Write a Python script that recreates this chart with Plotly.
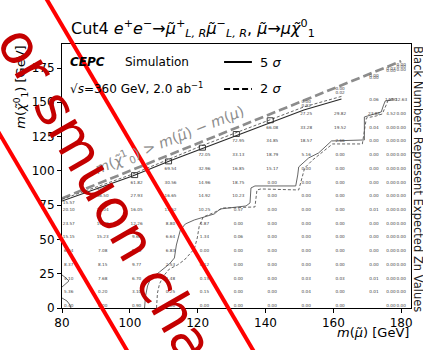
import plotly.graph_objects as go

# Signal grid: smuon mass columns, neutralino masses per column, expected Zn per point
col_m = [80, 90, 100, 110, 120, 130, 140, 150, 160, 170, 175, 178]
col_chi = [
    [75, 70, 60, 50, 40, 30, 20, 10, 0],
    [85, 80, 70, 60, 50, 40, 30, 20, 10, 0],
    [90, 80, 70, 60, 50, 40, 30, 20, 10, 0],
    [100, 90, 80, 70, 60, 50, 40, 30, 20, 10, 0],
    [110, 100, 90, 80, 70, 60, 50, 40, 30, 20, 10, 0],
    [120, 110, 100, 90, 80, 70, 60, 50, 40, 30, 20, 10, 0],
    [130, 120, 110, 100, 90, 80, 70, 60, 50, 40, 30, 20, 10, 0],
    [149, 146, 140, 130, 120, 110, 100, 90, 80, 70, 60, 50, 40, 30, 20, 10, 0],
    [158, 155, 140, 130, 120, 110, 100, 90, 80, 70, 60, 50, 40, 30, 20, 10, 0],
    [168, 166, 150, 140, 130, 120, 110, 100, 90, 80, 70, 60, 50, 40, 30, 20, 10, 0],
    [173, 171, 150, 140, 130, 120, 110, 100, 90, 80, 70, 60, 50, 40, 30, 20, 10, 0],
    [176, 174, 172, 150, 140, 130, 120, 110, 100, 90, 80, 70, 60, 50, 40, 30, 20, 10, 0],
]
col_zn = [
    [15.57, 20.10, 23.57, 15.15, 6.44, 8.37, 4.10, 5.36, 0.40],
    [41.04, 36.50, 26.04, 19.88, 15.23, 7.08, 8.15, 7.68, 0.20, 0.00],
    [61.82, 27.93, 16.05, 12.26, 9.60, 8.90, 9.77, 6.70, 3.10, 0.90],
    [69.54, 30.56, 16.65, 13.52, 8.80, 6.64, 6.83, 2.53, 1.48, 0.25, 0.00],
    [72.05, 32.96, 14.96, 14.92, 10.25, 4.87, 1.34, 0.00, 0.12, 0.15, 0.15, 0.00],
    [72.95, 33.13, 16.85, 18.75, 10.23, 0.57, 0.00, 0.06, 0.00, 0.00, 0.00, 0.00, 0.00],
    [66.08, 34.85, 18.79, 15.17, 0.00, 0.00, 0.00, 0.00, 0.00, 0.00, 0.00, 0.00, 0.00, 0.00],
    [0.00, 0.02, 27.25, 33.28, 18.57, 5.16, 0.00, 0.00, 0.00, 0.00, 0.00, 0.00, 0.00, 0.00, 0.03, 0.04, 0.00],
    [0.00, 0.02, 29.82, 19.52, 2.66, 0.00, 0.00, 0.00, 0.00, 0.00, 0.00, 0.00, 0.00, 0.00, 0.03, 0.00, 0.00],
    [0.00, 0.00, 0.06, 23.84, 0.04, 0.00, 0.00, 0.00, 0.00, 0.00, 0.01, 0.00, 0.00, 0.00, 0.00, 0.01, 0.01],
    [0.03, 0.00, 14.90, 4.52, 0.00, 0.00, 0.00, 0.00, 0.00, 0.00, 0.00, 0.00, 0.00, 0.00, 0.00, 0.00, 0.00, 0.00],
    [0.00, 0.00, 0.00, 12.63, 0.00, 0.00, 0.00, 0.00, 0.00, 0.00, 0.00, 0.00, 0.00, 0.00, 0.00, 0.00, 0.00, 0.00, 0.00],
]

# Near-degenerate points enclosed by small closed 5 sigma loops
loop_m = [100, 110, 120, 130, 140]
loop_chi = [95, 105, 115, 125, 135]

# Kinematic limit m(chi) = m(smuon)
diag_m = [80, 180]

# 5 sigma and 2 sigma contours (GeV)
c5_upper_x = [80.0, 91.1, 100.8, 111.7, 121.1, 131.3, 141.0, 151.3, 162.4]
c5_upper_y = [78.0, 87.5, 96.3, 107.2, 116.0, 125.5, 134.9, 144.4, 152.4]
c2_upper_x = [80.0, 100.8, 121.1, 141.0, 151.3, 162.4]
c2_upper_y = [79.3, 97.6, 118.2, 137.1, 146.6, 154.3]
c5_lower_x = [104.34, 104.63, 105.22, 106.10, 108.74, 111.67, 113.14, 113.72, 114.90, 116.36,
              119.00, 121.94, 124.87, 126.63, 134.25, 135.43, 135.72, 136.89, 148.91, 149.50,
              149.79, 152.73, 155.66, 159.47, 169.15, 169.15, 172.67, 174.13, 174.72, 175.31, 177.65]
c5_lower_y = [0.0, 8.75, 16.05, 21.15, 26.26, 32.09, 36.47, 45.95, 56.89, 61.27,
              64.19, 66.37, 68.56, 72.21, 74.40, 76.59, 87.53, 88.99, 88.99, 97.01,
              102.84, 109.41, 113.06, 121.81, 122.54, 139.31, 141.50, 142.96, 147.34, 150.98, 151.71]
c2_lower_x = [107.86, 108.15, 108.74, 109.91, 111.67, 114.02, 116.07, 119.00, 119.88, 120.47,
              121.64, 124.57, 127.51, 136.89, 137.48, 138.65, 149.79, 150.67, 151.55, 153.90,
              159.77, 168.56, 169.74, 172.67, 174.43, 175.60, 176.19, 177.95]
c2_lower_y = [0.0, 10.94, 17.51, 23.34, 28.45, 31.36, 35.01, 43.03, 51.06, 59.81,
              66.37, 69.29, 72.94, 73.67, 86.07, 86.80, 86.07, 94.82, 102.12, 107.95,
              119.62, 119.62, 138.59, 140.04, 141.50, 148.07, 151.71, 153.17]
c5_edge_a_x = [80.0, 81.17, 82.05, 81.17, 80.0]
c5_edge_a_y = [15.3, 17.5, 19.7, 21.9, 24.1]
c5_edge_b_x = [80.0, 81.47, 82.35, 82.64]
c5_edge_b_y = [7.3, 5.1, 2.2, 0.0]

FONT = "DejaVu Sans"
X_RANGE = [80, 182.9]
Y_RANGE = [0, 192.5]

fig = go.Figure()

fig.add_trace(go.Scatter(
    x=diag_m, y=diag_m, mode="lines",
    line=dict(color="#8c8c8c", width=2.6, dash="9px,4px"),
    hoverinfo="skip", showlegend=False))

line5 = dict(color="#2a2a2a", width=1.1)
line5b = dict(color="#555555", width=0.9)
line2 = dict(color="#555555", width=0.9, dash="3px,2px")
for xs, ys, ln in [(c5_upper_x, c5_upper_y, line5), (c2_upper_x, c2_upper_y, line2),
                   (c5_lower_x, c5_lower_y, line5b), (c2_lower_x, c2_lower_y, line2),
                   (c5_edge_a_x, c5_edge_a_y, line5b), (c5_edge_b_x, c5_edge_b_y, line5b)]:
    fig.add_trace(go.Scatter(x=xs, y=ys, mode="lines", line=ln,
                             hoverinfo="skip", showlegend=False))

# Small closed loops around the near-degenerate points
HW, HH = 0.9, 1.8
for m, c in zip(loop_m, loop_chi):
    cx, cy = m + 1.4, c + 1.9
    fig.add_trace(go.Scatter(
        x=[cx - HW, cx + HW, cx + HW, cx - HW, cx - HW],
        y=[cy - HH, cy - HH, cy + HH, cy + HH, cy - HH],
        mode="lines", line=dict(color="#2a2a2a", width=0.9),
        hoverinfo="skip", showlegend=False))

# Zn value labels, placed just up-right of each grid point
tx, ty, tt = [], [], []
for m, chis, zns in zip(col_m, col_chi, col_zn):
    for c, z in zip(chis, zns):
        tx.append(m + 2.0)
        ty.append(c + 1.5)
        tt.append(f"{z:.2f}")
fig.add_trace(go.Scatter(
    x=tx, y=ty, text=tt, mode="text",
    textfont=dict(family=FONT, size=4.2, color="#444444"),
    hoverinfo="skip", showlegend=False))


def px_x(p):
    return (p - 62) / 351.0


def px_y(p):
    return (308 - p) / 264.0


annotations = [
    dict(x=px_x(69), y=px_y(29), xref="paper", yref="paper", xanchor="left", yanchor="middle",
         showarrow=False, font=dict(family=FONT, size=16, color="black"),
         text="Cut4 <i>e</i><sup>+</sup><i>e</i><sup>−</sup>→<i>μ̃</i><sup>+</sup><sub><i>L, R</i></sub>"
              "<i>μ̃</i><sup>−</sup><sub><i>L, R</i></sub>, <i>μ̃</i>→<i>μχ̃</i><sup>0</sup><sub>1</sub>"),
    dict(x=px_x(68), y=px_y(62), xref="paper", yref="paper", xanchor="left", yanchor="middle",
         showarrow=False, font=dict(family=FONT, size=12, color="black"),
         text="<b><i>CEPC</i></b>"),
    dict(x=px_x(123), y=px_y(62), xref="paper", yref="paper", xanchor="left", yanchor="middle",
         showarrow=False, font=dict(family=FONT, size=12, color="black"), text="Simulation"),
    dict(x=px_x(68), y=px_y(88), xref="paper", yref="paper", xanchor="left", yanchor="middle",
         showarrow=False, font=dict(family=FONT, size=12, color="black"),
         text="√<i>s</i>=360 GeV, 2.0 ab<sup>−1</sup>"),
    dict(x=px_x(259), y=px_y(62), xref="paper", yref="paper", xanchor="left", yanchor="middle",
         showarrow=False, font=dict(family=FONT, size=13, color="black"), text="5 <i>σ</i>"),
    dict(x=px_x(259), y=px_y(89), xref="paper", yref="paper", xanchor="left", yanchor="middle",
         showarrow=False, font=dict(family=FONT, size=13, color="black"), text="2 <i>σ</i>"),
    dict(x=px_x(170), y=px_y(140), xref="paper", yref="paper", xanchor="center", yanchor="middle",
         showarrow=False, textangle=-21.9, font=dict(family=FONT, size=14.5, color="#8c8c8c"),
         text="<i>m</i>(<i>χ̃</i><sup>1</sup><sub>0</sub>) > <i>m</i>(<i>μ̃</i>) − <i>m</i>(<i>μ</i>)"),
    dict(x=px_x(20), y=1.0, xref="paper", yref="paper", xanchor="center", yanchor="top",
         showarrow=False, textangle=-90, font=dict(family=FONT, size=13, color="black"),
         text="<i>m</i>(<i>χ̃</i><sup>0</sup><sub>1</sub>) [GeV]"),
    dict(x=1.0, y=px_y(332), xref="paper", yref="paper", xanchor="right", yanchor="middle",
         showarrow=False, font=dict(family=FONT, size=13, color="black"),
         text="<i>m</i>(<i>μ̃</i>) [GeV]"),
    dict(x=px_x(420), y=1.0, xref="paper", yref="paper", xanchor="center", yanchor="top",
         showarrow=False, textangle=90, font=dict(family=FONT, size=11.5, color="#222222"),
         text="Black Numbers Represent Expected Zn Values"),
    dict(x=px_x(106), y=px_y(194), xref="paper", yref="paper", xanchor="center", yanchor="middle",
         showarrow=False, textangle=60, font=dict(family=FONT, size=55, color="#c40000"),
         text="or smuon cha"),
]

shapes = [
    dict(type="line", xref="paper", yref="paper", x0=px_x(225), x1=px_x(253), y0=px_y(62), y1=px_y(62),
         line=dict(color="black", width=2)),
    dict(type="line", xref="paper", yref="paper", x0=px_x(225), x1=px_x(253), y0=px_y(89), y1=px_y(89),
         line=dict(color="black", width=2, dash="6px,3px")),
    dict(type="line", xref="paper", yref="paper", x0=px_x(41.1), x1=px_x(260.0), y0=px_y(-10), y1=px_y(360),
         line=dict(color="#ff0000", width=4)),
    dict(type="line", xref="paper", yref="paper", x0=px_x(-85.9), x1=px_x(133.0), y0=px_y(-10), y1=px_y(360),
         line=dict(color="#ff0000", width=4)),
]

axis_common = dict(showgrid=False, zeroline=False, showline=True, linecolor="black", linewidth=1,
                   mirror=True, ticks="outside", ticklen=4, tickwidth=1, tickcolor="black",
                   tickfont=dict(family=FONT, size=12, color="black"))
fig.update_layout(
    width=423, height=350,
    margin=dict(l=62, r=10, t=44, b=42),
    paper_bgcolor="white", plot_bgcolor="white",
    xaxis=dict(range=X_RANGE, tickvals=[80, 100, 120, 140, 160, 180], **axis_common),
    yaxis=dict(range=Y_RANGE, tickvals=[0, 25, 50, 75, 100, 125, 150, 175], **axis_common),
    annotations=annotations, shapes=shapes, showlegend=False,
)

fig.write_html("out.html")
